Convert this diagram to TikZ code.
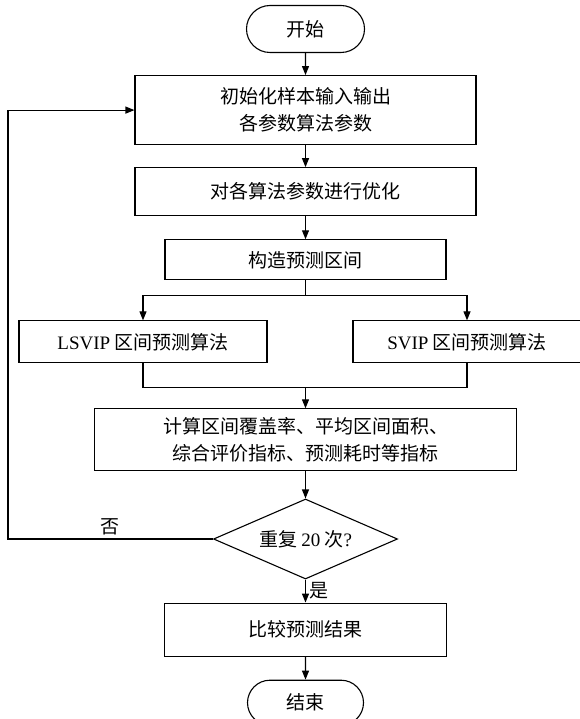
\documentclass[tikz,border=0pt]{standalone}
\usepackage{fontspec}
\setmainfont{Liberation Serif}
\newfontfamily\cjk{Noto Sans CJK SC}
\usetikzlibrary{arrows.meta, positioning, shapes.geometric, shapes.misc}

\begin{document}
\begin{tikzpicture}[x=1pt,y=1pt,line width=1.1pt,node distance=22pt,
  >={Triangle[length=9pt,width=7pt]}]
  \tikzstyle{every node}=[font=\cjk\fontsize{19}{27}\selectfont]
  \tikzstyle{proc}=[draw,rectangle,align=center,inner sep=0pt]
  \tikzstyle{term}=[draw,rounded rectangle,minimum width=118pt,minimum height=47pt,inner sep=0pt]

  \useasboundingbox (0,0) rectangle (580,-719);

  \node[term]                                        (start)  at (305.5,-29)              {开始};
  \node[proc,minimum width=341pt,minimum height=69pt] (init)   [below=of start]           {初始化样本输入输出\\各参数算法参数};
  \node[proc,minimum width=341pt,minimum height=48pt] (optim)  [below=of init]            {对各算法参数进行优化};
  \node[proc,minimum width=281pt,minimum height=40pt] (build)  [below=23pt of optim]      {构造预测区间};
  \node[proc,minimum width=248pt,minimum height=42pt] (lsvip)  [below=40pt of build, xshift=-162.5pt] {{\rmfamily LSVIP} 区间预测算法};
  \node[proc,minimum width=228pt,minimum height=42pt] (svip)   [below=40pt of build, xshift=161.5pt]  {{\rmfamily SVIP} 区间预测算法};
  \node[proc,minimum width=422pt,minimum height=62pt] (calc)   [below=128pt of build]     {计算区间覆盖率、平均区间面积、\\综合评价指标、预测耗时等指标};
  \node[draw,diamond,aspect=2.3,inner sep=0pt,minimum width=184pt,minimum height=80pt]
                                                     (rep)    [below=27pt of calc]       {重复 {\rmfamily 20} 次{\rmfamily ?}};
  \node[proc,minimum width=282pt,minimum height=53pt] (cmp)    [below=23pt of rep]        {比较预测结果};
  \node[term,minimum width=116pt,minimum height=45pt] (stop)   [below=23pt of cmp]        {结束};

  \path (build.south) -- ++(0,-15) coordinate (split);
  \path (lsvip.south) -- ++(0,-24) coordinate (merge);

  \draw[->] (start) -- (init);
  \draw[->] (init) -- (optim);
  \draw[->] (optim) -- (build);
  \draw[->] (build.south) -- (split) -| (lsvip.north);
  \draw[->] (split) -| (svip.north);
  \draw (lsvip.south) -- (merge) -| (svip.south);
  \draw[->] (merge -| calc.north) -- (calc.north);
  \draw[->] (calc) -- (rep);
  \draw[->] (rep) -- node[right] {是} (cmp);
  \draw[->] (rep.west) -- node[above] {否} ++(-205,0) |- (init.west);
  \draw[->] (cmp) -- (stop);
\end{tikzpicture}
\end{document}
